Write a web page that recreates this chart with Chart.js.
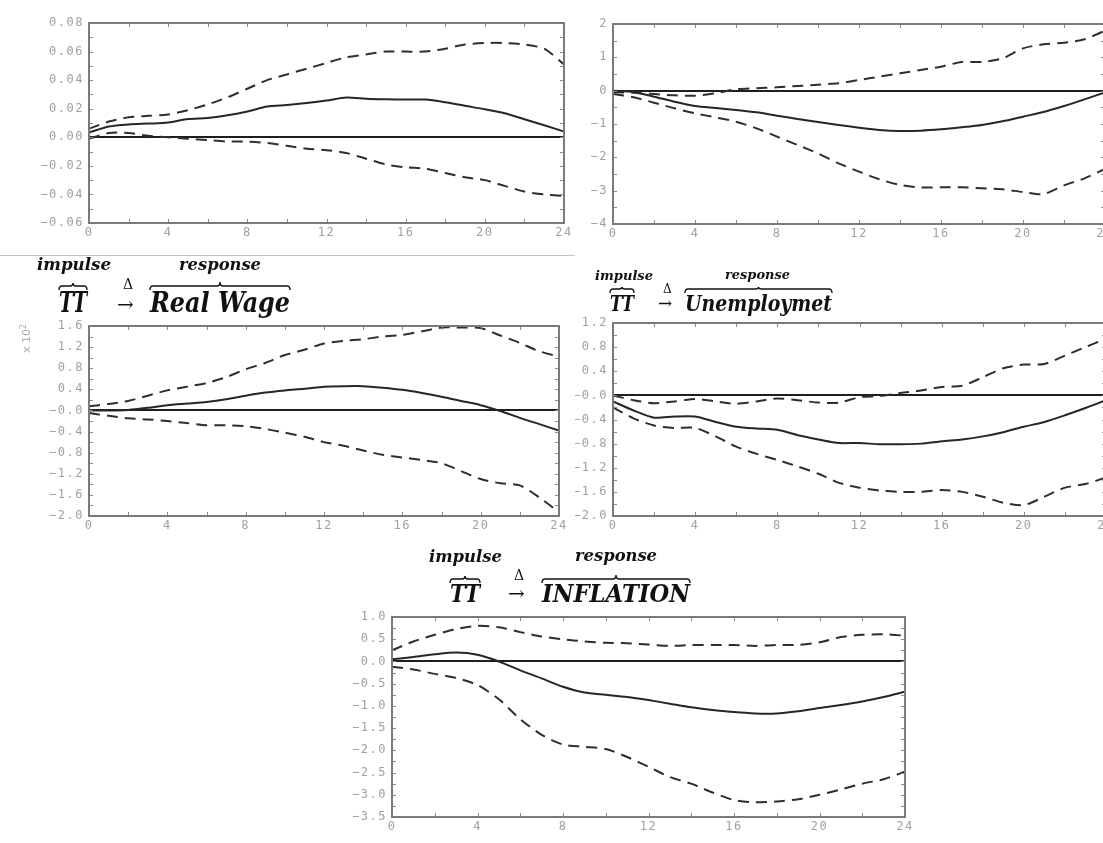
<!DOCTYPE html>
<html>
<head>
<meta charset="utf-8">
<script src="https://cdn.jsdelivr.net/npm/chart.js@4.4.1/dist/chart.umd.min.js"></script>
<style>
  html, body { margin: 0; padding: 0; background: #fff; overflow: hidden; width: 1103px; height: 843px; }
  canvas { position: absolute; }
  #overlay { position: absolute; left: 0; top: 0; pointer-events: none; }
  .ttl { font-family: "DejaVu Serif", "Liberation Serif", serif; font-weight: bold; font-style: italic; fill: #111; }
  .sym { font-family: "DejaVu Serif", serif; fill: #111; }
  .brace { fill: none; stroke: #111; stroke-width: 1.4; }
</style>
</head>
<body>
<canvas id="topLeft" width="575" height="245" style="left:0;top:0"></canvas>
<canvas id="topRight" width="545" height="245" style="left:575px;top:0"></canvas>
<canvas id="realWage" width="575" height="245" style="left:0;top:300px"></canvas>
<canvas id="unemp" width="545" height="245" style="left:575px;top:300px"></canvas>
<canvas id="inflation" width="620" height="253" style="left:300px;top:590px"></canvas>

<svg id="overlay" width="1103" height="843">
  <line x1="0" y1="255.5" x2="575" y2="255.5" stroke="#c4c4c4" stroke-width="1"/>

  <!-- TT -> Real Wage -->
  <text class="ttl" x="37" y="270" font-size="16" textLength="74" lengthAdjust="spacingAndGlyphs">impulse</text>
  <text class="ttl" x="179" y="270" font-size="16" textLength="82" lengthAdjust="spacingAndGlyphs">response</text>
  <text class="ttl" x="59" y="312" font-size="28" textLength="28" lengthAdjust="spacingAndGlyphs">TT</text>
  <text class="sym" x="123" y="289" font-size="14">Δ</text>
  <text class="sym" x="117" y="311" font-size="20">→</text>
  <text class="ttl" x="150" y="312" font-size="28" textLength="140" lengthAdjust="spacingAndGlyphs">Real Wage</text>
  <path class="brace" id="b1"/>
  <path class="brace" id="b2"/>
  <text x="30" y="353" font-family="DejaVu Sans" font-size="11" fill="#a8a8a8" transform="rotate(-90 30 353)">x 10<tspan dy="-4" font-size="8">2</tspan></text>

  <!-- TT -> Unemploymet -->
  <text class="ttl" x="595" y="280" font-size="13" textLength="58" lengthAdjust="spacingAndGlyphs">impulse</text>
  <text class="ttl" x="725" y="279" font-size="13" textLength="65" lengthAdjust="spacingAndGlyphs">response</text>
  <text class="ttl" x="610" y="311" font-size="22" textLength="24" lengthAdjust="spacingAndGlyphs">TT</text>
  <text class="sym" x="663" y="293" font-size="12">Δ</text>
  <text class="sym" x="658" y="309" font-size="17">→</text>
  <text class="ttl" x="685" y="311" font-size="23" textLength="147" lengthAdjust="spacingAndGlyphs">Unemploymet</text>
  <path class="brace" id="b3"/>
  <path class="brace" id="b4"/>

  <!-- TT -> INFLATION -->
  <text class="ttl" x="429" y="562" font-size="16" textLength="73" lengthAdjust="spacingAndGlyphs">impulse</text>
  <text class="ttl" x="575" y="561" font-size="16" textLength="82" lengthAdjust="spacingAndGlyphs">response</text>
  <text class="ttl" x="450" y="602" font-size="25" textLength="30" lengthAdjust="spacingAndGlyphs">TT</text>
  <text class="sym" x="514" y="580" font-size="14">Δ</text>
  <text class="sym" x="508" y="600" font-size="20">→</text>
  <text class="ttl" x="542" y="602" font-size="25" textLength="148" lengthAdjust="spacingAndGlyphs">INFLATION</text>
  <path class="brace" id="b5"/>
  <path class="brace" id="b6"/>
</svg>

<script>
// horizon (quarters) and x tick labels
const horizon = [0, 1, 2, 3, 4, 5, 6, 7, 8, 9, 10, 11, 12, 13, 14, 15, 16, 17, 18, 19, 20, 21, 22, 23, 24];
const xTickValues = [0, 4, 8, 12, 16, 20, 24];

// top-left panel
const topLeftIrf = [0.0033, 0.0075, 0.009, 0.0096, 0.0103, 0.0128, 0.0135, 0.0154, 0.018, 0.0215, 0.0226, 0.024, 0.0257, 0.0278, 0.027, 0.0266, 0.0264, 0.0264, 0.0245, 0.022, 0.0196, 0.0168, 0.0126, 0.0084, 0.004];
const topLeftUpper = [0.006, 0.011, 0.014, 0.015, 0.016, 0.019, 0.023, 0.028, 0.034, 0.040, 0.044, 0.048, 0.052, 0.056, 0.058, 0.060, 0.060, 0.060, 0.062, 0.065, 0.066, 0.066, 0.065, 0.062, 0.051];
const topLeftLower = [-0.001, 0.003, 0.003, 0.001, 0.000, -0.001, -0.002, -0.003, -0.003, -0.004, -0.006, -0.008, -0.009, -0.011, -0.015, -0.019, -0.021, -0.022, -0.025, -0.028, -0.030, -0.034, -0.038, -0.040, -0.041];
const topLeftTicks = [-0.06, -0.04, -0.02, 0, 0.02, 0.04, 0.06, 0.08];
const topLeftLabels = ['−0.06', '−0.04', '−0.02', '0.00', '0.02', '0.04', '0.06', '0.08'];

// top-right panel
const topRightIrf = [0.0, -0.04, -0.18, -0.33, -0.46, -0.52, -0.58, -0.65, -0.75, -0.85, -0.94, -1.03, -1.11, -1.18, -1.21, -1.2, -1.16, -1.1, -1.03, -0.92, -0.78, -0.64, -0.46, -0.26, -0.05];
const topRightUpper = [-0.05, -0.06, -0.1, -0.14, -0.15, -0.08, 0.04, 0.07, 0.1, 0.14, 0.18, 0.22, 0.32, 0.42, 0.52, 0.62, 0.72, 0.86, 0.86, 0.97, 1.27, 1.39, 1.44, 1.54, 1.8];
const topRightLower = [-0.1, -0.2, -0.36, -0.53, -0.68, -0.8, -0.93, -1.13, -1.38, -1.63, -1.88, -2.18, -2.43, -2.66, -2.83, -2.9, -2.9, -2.9, -2.93, -2.96, -3.04, -3.1, -2.84, -2.63, -2.35];
const topRightTicks = [-4, -3, -2, -1, 0, 1, 2];
const topRightLabels = ['−4', '−3', '−2', '−1', '0', '1', '2'];

// TT -> real wage
const realWageIrf = [0.0, 0.0, 0.01, 0.05, 0.1, 0.13, 0.16, 0.21, 0.28, 0.34, 0.38, 0.41, 0.45, 0.46, 0.46, 0.43, 0.39, 0.33, 0.26, 0.18, 0.1, -0.01, -0.14, -0.26, -0.38];
const realWageUpper = [0.08, 0.12, 0.18, 0.28, 0.38, 0.45, 0.52, 0.63, 0.78, 0.9, 1.05, 1.15, 1.27, 1.32, 1.35, 1.4, 1.43, 1.5, 1.57, 1.57, 1.56, 1.42, 1.28, 1.12, 1.02];
const realWageLower = [-0.05, -0.1, -0.15, -0.17, -0.2, -0.24, -0.28, -0.28, -0.3, -0.35, -0.42, -0.5, -0.6, -0.67, -0.76, -0.84, -0.89, -0.94, -1.0, -1.15, -1.3, -1.38, -1.42, -1.65, -1.93];
const realWageTicks = [-2.0, -1.6, -1.2, -0.8, -0.4, 0, 0.4, 0.8, 1.2, 1.6];
const realWageLabels = ['−2.0', '−1.6', '−1.2', '−0.8', '−0.4', '−0.0', '0.4', '0.8', '1.2', '1.6'];

// TT -> unemployment
const unempIrf = [-0.1, -0.25, -0.37, -0.35, -0.35, -0.44, -0.52, -0.55, -0.57, -0.66, -0.73, -0.79, -0.79, -0.81, -0.81, -0.8, -0.76, -0.73, -0.68, -0.61, -0.52, -0.44, -0.33, -0.21, -0.08];
const unempUpper = [0.0, -0.08, -0.13, -0.1, -0.06, -0.1, -0.14, -0.1, -0.05, -0.08, -0.12, -0.12, -0.03, -0.01, 0.04, 0.08, 0.14, 0.16, 0.3, 0.45, 0.51, 0.52, 0.66, 0.8, 0.94];
const unempLower = [-0.2, -0.38, -0.5, -0.54, -0.54, -0.68, -0.85, -0.97, -1.07, -1.18, -1.3, -1.45, -1.53, -1.58, -1.6, -1.6, -1.57, -1.6, -1.68, -1.78, -1.82, -1.68, -1.53, -1.47, -1.36];
const unempTicks = [-2.0, -1.6, -1.2, -0.8, -0.4, 0, 0.4, 0.8, 1.2];
const unempLabels = ['−2.0', '−1.6', '−1.2', '−0.8', '−0.4', '−0.0', '0.4', '0.8', '1.2'];

// TT -> inflation
const inflationIrf = [0.05, 0.1, 0.16, 0.2, 0.15, 0.0, -0.2, -0.38, -0.57, -0.7, -0.75, -0.8, -0.87, -0.95, -1.03, -1.09, -1.14, -1.17, -1.17, -1.12, -1.05, -0.98, -0.9, -0.8, -0.68];
const inflationUpper = [0.25, 0.45, 0.6, 0.73, 0.8, 0.77, 0.66, 0.56, 0.5, 0.45, 0.42, 0.41, 0.38, 0.35, 0.37, 0.37, 0.37, 0.35, 0.37, 0.37, 0.43, 0.55, 0.6, 0.61, 0.58];
const inflationLower = [-0.12, -0.18, -0.28, -0.37, -0.53, -0.85, -1.3, -1.65, -1.87, -1.92, -1.97, -2.15, -2.37, -2.6, -2.75, -2.95, -3.12, -3.17, -3.15, -3.1, -3.0, -2.88, -2.75, -2.65, -2.48];
const inflationTicks = [-3.5, -3.0, -2.5, -2.0, -1.5, -1.0, -0.5, 0, 0.5, 1.0];
const inflationLabels = ['−3.5', '−3.0', '−2.5', '−2.0', '−1.5', '−1.0', '−0.5', '0.0', '0.5', '1.0'];

// --- frame, inward ticks, letter spacing of the axis text ---
const framePlugin = {
  id: 'frame',
  beforeDraw(chart) {
    chart.ctx.letterSpacing = '1.5px';
  },
  afterDatasetsDraw(chart, args, opts) {
    const { ctx, chartArea: a, scales: { x, y } } = chart;
    ctx.save();
    ctx.strokeStyle = '#8c8c8c';
    ctx.lineWidth = 1;
    ctx.beginPath();
    for (let v = opts.min; v <= opts.max + 1e-9; v += opts.minor) {
      const py = Math.round(y.getPixelForValue(v)) + 0.5;
      ctx.moveTo(a.left, py); ctx.lineTo(a.left + 4, py);
      ctx.moveTo(a.right, py); ctx.lineTo(a.right - 4, py);
    }
    for (let t = 0; t <= 24; t += 2) {
      const px = Math.round(x.getPixelForValue(t)) + 0.5;
      ctx.moveTo(px, a.top); ctx.lineTo(px, a.top + 4);
      ctx.moveTo(px, a.bottom); ctx.lineTo(px, a.bottom - 4);
    }
    ctx.stroke();
    ctx.lineWidth = 2;
    ctx.strokeStyle = '#7a7a7a';
    ctx.strokeRect(a.left, a.top, a.right - a.left, a.bottom - a.top);
    ctx.restore();
  }
};

const axisFont = { family: 'DejaVu Sans Mono', size: 12 };

const makeChart = (id, p) => {
  const line = (data, dashed) => ({
    data,
    borderColor: dashed ? '#2e2e2e' : '#262626',
    borderWidth: 2,
    borderDash: dashed ? [11, 7] : [],
    pointRadius: 0,
    tension: 0.25,
    fill: false
  });
  return new Chart(document.getElementById(id), {
    type: 'line',
    data: {
      labels: horizon,
      datasets: [line(p.irf, false), line(p.upper, true), line(p.lower, true)]
    },
    options: {
      responsive: false,
      animation: false,
      layout: { padding: { top: p.padTop, right: p.padRight, left: 0, bottom: 0 } },
      plugins: {
        legend: { display: false },
        tooltip: { enabled: false },
        frame: { min: p.ticks[0], max: p.ticks[p.ticks.length - 1], minor: p.minor }
      },
      scales: {
        x: {
          type: 'linear',
          min: 0,
          max: 24,
          afterBuildTicks: s => { s.ticks = xTickValues.map(v => ({ value: v })); },
          afterFit: s => { s.height = p.xHeight; s.paddingLeft = 0; s.paddingRight = 0; },
          ticks: { color: '#a0a0a0', font: axisFont, padding: 3, maxRotation: 0, autoSkip: false, callback: v => String(v) },
          grid: { display: false, drawTicks: false },
          border: { display: false }
        },
        y: {
          min: p.ticks[0],
          max: p.ticks[p.ticks.length - 1],
          afterBuildTicks: s => { s.ticks = p.ticks.map(v => ({ value: v })); },
          afterFit: s => { s.width = p.yWidth; s.paddingTop = 0; s.paddingBottom = 0; },
          ticks: { color: '#a0a0a0', font: axisFont, padding: 5, autoSkip: false, callback: (v, i) => p.labels[i] },
          grid: {
            drawTicks: false,
            color: c => (c.tick && c.tick.value === 0 ? '#1e1e1e' : 'rgba(0,0,0,0)'),
            lineWidth: c => (c.tick && c.tick.value === 0 ? 2 : 0)
          },
          border: { display: false }
        }
      }
    },
    plugins: [framePlugin]
  });
};

makeChart('topLeft', { irf: topLeftIrf, upper: topLeftUpper, lower: topLeftLower, ticks: topLeftTicks, labels: topLeftLabels, minor: 0.01, yWidth: 89, padTop: 23, padRight: 11, xHeight: 22 });
makeChart('topRight', { irf: topRightIrf, upper: topRightUpper, lower: topRightLower, ticks: topRightTicks, labels: topRightLabels, minor: 0.5, yWidth: 38, padTop: 24, padRight: 15, xHeight: 21 });
makeChart('realWage', { irf: realWageIrf, upper: realWageUpper, lower: realWageLower, ticks: realWageTicks, labels: realWageLabels, minor: 0.2, yWidth: 89, padTop: 26, padRight: 16, xHeight: 29 });
makeChart('unemp', { irf: unempIrf, upper: unempUpper, lower: unempLower, ticks: unempTicks, labels: unempLabels, minor: 0.2, yWidth: 38, padTop: 23, padRight: 14, xHeight: 29 });
makeChart('inflation', { irf: inflationIrf, upper: inflationUpper, lower: inflationLower, ticks: inflationTicks, labels: inflationLabels, minor: 0.25, yWidth: 92, padTop: 27, padRight: 15, xHeight: 26 });

// --- overbraces above the title terms ---
const brace = (id, x1, x2, yEnd, yPeak) => {
  const cx = (x1 + x2) / 2;
  const ym = yEnd - 4;
  const r = 3;
  document.getElementById(id).setAttribute('d',
    `M${x1},${yEnd} Q${x1},${ym} ${x1 + r},${ym} L${cx - r},${ym} Q${cx},${ym} ${cx},${yPeak} ` +
    `Q${cx},${ym} ${cx + r},${ym} L${x2 - r},${ym} Q${x2},${ym} ${x2},${yEnd}`);
};
brace('b1', 59, 87, 290, 283);
brace('b2', 150, 290, 290, 282);
brace('b3', 610, 634, 293, 287);
brace('b4', 685, 832, 293, 287);
brace('b5', 450, 480, 583, 576);
brace('b6', 542, 690, 583, 575);
</script>
</body>
</html>
